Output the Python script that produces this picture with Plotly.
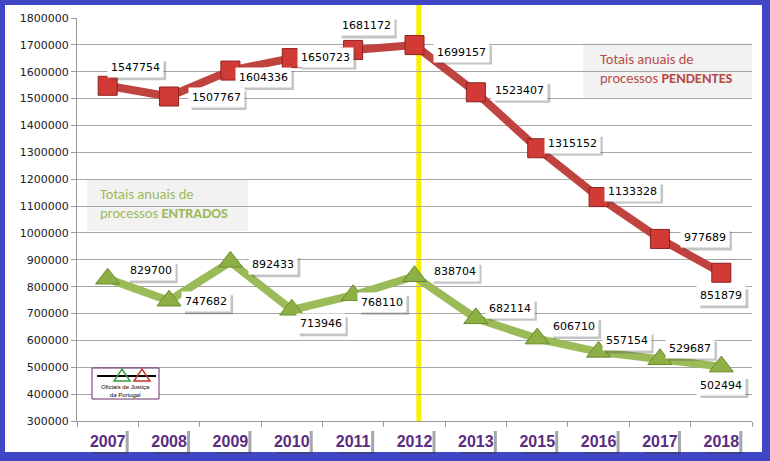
import plotly.graph_objects as go

years = ["2007", "2008", "2009", "2010", "2011", "2012", "2013", "2015", "2016", "2017", "2018"]
pendentes = [1547754, 1507767, 1604336, 1650723, 1681172, 1699157, 1523407, 1315152, 1133328, 977689, 851879]
entrados = [829700, 747682, 892433, 713946, 768110, 838704, 682114, 606710, 557154, 529687, 502494]
y_ticks = list(range(300000, 1800001, 100000))

# label offsets in pixels (dx, dy up-positive)
pend_off = [(28, 18), (47, -1), (33, -7), (34, 1), (13, 24), (47, -7),
            (44, 2), (35, 5), (34, 6), (45, 1), (0, -23)]
entr_off = [(43, 8), (37, -1), (43, -3), (29, -14), (29, -7), (40, 5),
            (34, 10), (37, 12), (28, 11), (30, 11), (0, -19)]

L, R, T, B = 77, 18, 18, 40
W, H = 770, 461
PW, PH = W - L - R, H - T - B


def px(x):
    return (x - L) / PW


def py(y):
    return (H - B - y) / PH


GREEN = "#9BBB59"
BLUE = "#3F47C6"
PURPLE = "#5B2C83"

fig = go.Figure()
fig.add_trace(go.Scatter(
    x=years, y=entrados, mode="lines+markers",
    line=dict(color=GREEN, width=8),
    marker=dict(symbol="triangle-up", size=21, color="#8DB045",
                line=dict(color="#6E8B2E", width=1)),
    hoverinfo="x+y", showlegend=False))
fig.add_trace(go.Scatter(
    x=years, y=pendentes, mode="lines+markers",
    line=dict(color="#C0433F", width=8),
    marker=dict(symbol="square", size=19, color="#D23A36",
                line=dict(color="#8E2020", width=1)),
    hoverinfo="x+y", showlegend=False))

shapes = []
annotations = []
# white inner panel on blue frame
shapes.append(dict(type="rect", xref="paper", yref="paper", layer="below",
                   x0=px(5), x1=px(762), y0=py(452), y1=py(5),
                   fillcolor="white", line=dict(width=0)))
# yellow marker line
shapes.append(dict(type="line", xref="x", yref="paper", layer="below",
                   x0=5.07, x1=5.07, y0=0, y1=py(5),
                   line=dict(color="#F7F000", width=5)))

# x tick label boxes with shadows
for i in range(len(years)):
    shapes.append(dict(type="rect", xref="x", yref="paper", layer="below",
                       xsizemode="pixel", ysizemode="pixel", xanchor=i, yanchor=0,
                       x0=-15, x1=21, y0=-33, y1=-10,
                       fillcolor="rgba(60,60,60,0.45)", line=dict(width=0)))
    shapes.append(dict(type="rect", xref="x", yref="paper", layer="below",
                       xsizemode="pixel", ysizemode="pixel", xanchor=i, yanchor=0,
                       x0=-18, x1=18, y0=-31, y1=-8,
                       fillcolor="white", line=dict(width=0)))


def add_labels(values, offsets):
    for i, (v, (dx, dy)) in enumerate(zip(values, offsets)):
        txt = str(v)
        w = 7 * len(txt) + 6
        h = 19
        shapes.append(dict(type="rect", xref="x", yref="y", layer="above",
                           xsizemode="pixel", ysizemode="pixel", xanchor=i, yanchor=v,
                           x0=dx - w / 2 + 3, x1=dx + w / 2 + 3,
                           y0=dy - h / 2 - 3, y1=dy + h / 2 - 3,
                           fillcolor="rgba(70,70,70,0.32)", line=dict(width=0)))
        annotations.append(dict(x=i, y=v, xref="x", yref="y", text=txt,
                                showarrow=False, xshift=dx, yshift=dy,
                                xanchor="center", yanchor="middle",
                                bgcolor="white", borderpad=3,
                                font=dict(family="DejaVu Sans", size=11, color="black")))


add_labels(pendentes, pend_off)
add_labels(entrados, entr_off)

# legend-like boxes
shapes.append(dict(type="rect", xref="paper", yref="paper", layer="below",
                   x0=px(583), x1=px(752), y0=py(98), y1=py(43),
                   fillcolor="#F2F2F2", line=dict(width=0)))
annotations.append(dict(xref="paper", yref="paper", x=px(598), y=py(68.5),
                        xanchor="left", yanchor="middle", align="left", showarrow=False,
                        text="Totais anuais de<br>processos <b>PENDENTES</b>",
                        font=dict(family="Carlito, Lato, sans-serif", size=14.5, color="#B84B47")))
shapes.append(dict(type="rect", xref="paper", yref="paper", layer="below",
                   x0=px(87), x1=px(248), y0=py(231), y1=py(180),
                   fillcolor="#F2F2F2", line=dict(width=0)))
annotations.append(dict(xref="paper", yref="paper", x=px(98), y=py(203.5),
                        xanchor="left", yanchor="middle", align="left", showarrow=False,
                        text="Totais anuais de<br>processos <b>ENTRADOS</b>",
                        font=dict(family="Carlito, Lato, sans-serif", size=14.5, color=GREEN)))

# small logo
shapes.append(dict(type="rect", xref="paper", yref="paper", layer="above",
                   x0=px(92), x1=px(159), y0=py(399), y1=py(368),
                   fillcolor="white", line=dict(color="#6B2C6B", width=1)))
shapes.append(dict(type="line", xref="paper", yref="paper", layer="above",
                   x0=px(97), x1=px(156), y0=py(376), y1=py(376),
                   line=dict(color="black", width=2)))
for cx, col in [(122, "#3C9A3C"), (142, "#C0392B")]:
    path = "M {} {} L {} {} L {} {} Z".format(px(cx - 8), py(381), px(cx), py(369), px(cx + 8), py(381))
    shapes.append(dict(type="path", xref="paper", yref="paper", layer="above",
                       path=path, line=dict(color=col, width=1.5)))
annotations.append(dict(xref="paper", yref="paper", x=px(125.5), y=py(391),
                        xanchor="center", yanchor="middle",
                        showarrow=False, text="Oficiais de Justiça<br>da Portugal",
                        font=dict(family="Liberation Sans", size=6, color="black")))

fig.update_layout(
    width=W, height=H,
    margin=dict(l=L, r=R, t=T, b=B),
    paper_bgcolor=BLUE, plot_bgcolor="rgba(0,0,0,0)",
    shapes=shapes, annotations=annotations,
    xaxis=dict(type="category", range=[-0.5, len(years) - 0.5],
               showgrid=False, showline=True, linecolor="#999999", linewidth=1,
               ticks="outside", tickson="boundaries", ticklen=5, tickcolor="#999999",
               tickfont=dict(family="Liberation Sans Narrow, Liberation Sans", size=16, color=PURPLE,
                             weight="bold"),
               ticklabelstandoff=6),
    yaxis=dict(range=[300000, 1800000], tickvals=y_ticks, tickformat="d",
               showgrid=True, gridcolor="#A6A6A6", gridwidth=1,
               showline=True, linecolor="#999999", linewidth=1,
               ticks="outside", ticklen=5, tickcolor="#999999",
               tickfont=dict(family="DejaVu Sans", size=11, color="#222222"),
               zeroline=False),
)

fig.write_html("out.html")
